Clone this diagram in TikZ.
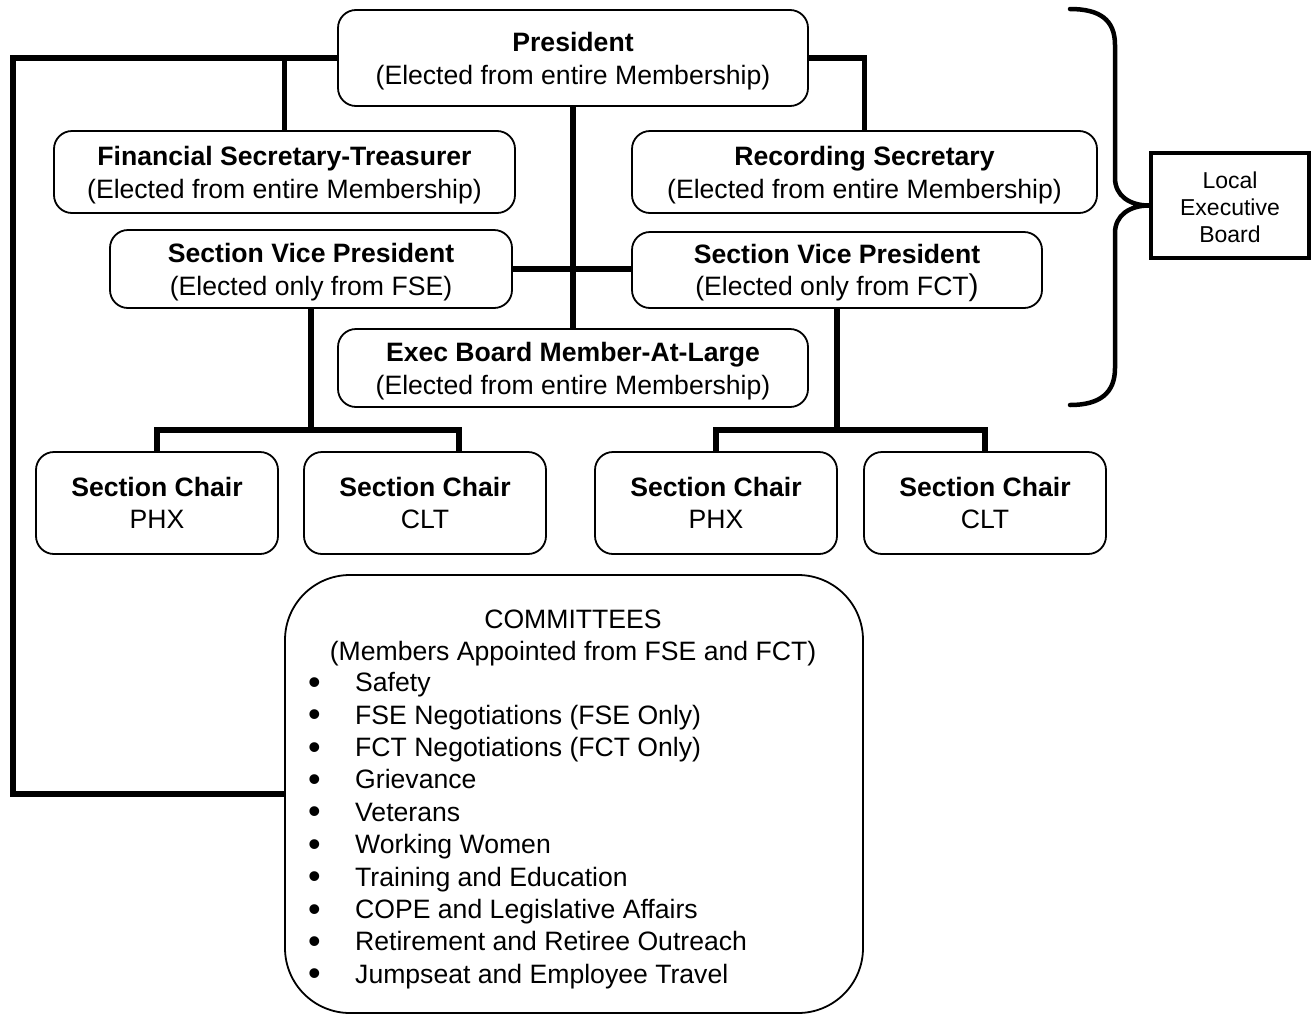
\documentclass[tikz,border=0pt]{standalone}
\usepackage{fontspec}
\setmainfont{Liberation Sans}
\usepackage{array}
\usepackage{graphicx}
\newcommand{\mainf}{\fontsize{26.6}{32.4}\selectfont}
\newcommand{\lebf}{\fontsize{23}{27}\selectfont}
\newcommand{\tstr}{\rule{0pt}{25.5pt}}
\newcommand{\bigbul}{\hspace*{2pt}\raisebox{-0.1em}{\scalebox{1.35}{\textbullet}}}
\tikzset{
  orgbox/.style={draw, line width=1.8pt, rounded corners=18pt, fill=white,
    align=center, inner sep=0pt, font=\mainf},
  conn/.style={line width=5.5pt},
  bracestyle/.style={line width=4.5pt, line cap=round},
}
\begin{document}
\begin{tikzpicture}[x=1pt,y=-1pt]
\useasboundingbox (0,0) rectangle (1314,1015);

% boxes
\node[orgbox, minimum width=470pt, minimum height=96pt] (pres) at (573,58)
  {\tstr{\bfseries President}\\(Elected from entire Membership)};
\node[orgbox, minimum width=461pt, minimum height=82pt] (fin) at (284.5,172)
  {\tstr{\bfseries Financial Secretary-Treasurer}\\(Elected from entire Membership)};
\node[orgbox, minimum width=465pt, minimum height=82pt] (rec) at (864.5,172)
  {\tstr{\bfseries Recording Secretary}\\(Elected from entire Membership)};
\node[orgbox, minimum width=402pt, minimum height=78pt] (vpl) at (311,269)
  {\tstr{\bfseries Section Vice President}\\(Elected only from FSE)};
\node[orgbox, minimum width=410pt, minimum height=76pt] (vpr) at (837,270)
  {\tstr{\bfseries Section Vice President}\\(Elected only from FCT{\fontsize{30}{32.4}\selectfont)}};
\node[orgbox, minimum width=470pt, minimum height=78pt] (exec) at (573,368)
  {\tstr{\bfseries Exec Board Member-At-Large}\\(Elected from entire Membership)};

\node[orgbox, minimum width=242pt, minimum height=102pt] (c1) at (157,503)
  {{\bfseries Section Chair}\\PHX};
\node[orgbox, minimum width=242pt, minimum height=102pt] (c2) at (425,503)
  {{\bfseries Section Chair}\\CLT};
\node[orgbox, minimum width=242pt, minimum height=102pt] (c3) at (716,503)
  {{\bfseries Section Chair}\\PHX};
\node[orgbox, minimum width=242pt, minimum height=102pt] (c4) at (985,503)
  {{\bfseries Section Chair}\\CLT};

\node[orgbox, rounded corners=65pt, minimum width=578pt, minimum height=438pt] (comm) at (574,794) {};
\node[align=center, inner sep=0pt, font=\mainf] (commhead) at (573,638)
  {COMMITTEES\\(Members Appointed from FSE and FCT)};
\node[anchor=west, inner sep=0pt, font=\mainf] (commlist) at (306,831)
  {\begin{tabular}{@{}p{49pt}@{}l@{}}
  \bigbul & Safety\\
  \bigbul & FSE Negotiations (FSE Only)\\
  \bigbul & FCT Negotiations (FCT Only)\\
  \bigbul & Grievance\\
  \bigbul & Veterans\\
  \bigbul & Working Women\\
  \bigbul & Training and Education\\
  \bigbul & COPE and Legislative Affairs\\
  \bigbul & Retirement and Retiree Outreach\\
  \bigbul & Jumpseat and Employee Travel
  \end{tabular}};

\node[draw, line width=4pt, minimum width=158pt, minimum height=105pt, align=center,
  inner sep=0pt, font=\lebf] (leb) at (1230,205.5) {\rule{0pt}{20pt}Local\\Executive\\Board};

% connectors
\coordinate (lcorner) at (13,58);
\draw[conn] (pres.west) -- (lcorner) |- (comm.west);
\draw[conn] (fin.north |- pres.west) -- (fin.north);
\draw[conn] (pres.east) -| (rec.north);
\draw[conn] (pres.south) -- (exec.north);
\draw[conn] (vpl.east) -- (vpl.east -| vpr.west);

\coordinate (busL) at (311,430);
\coordinate (dropL) at (459,452);
\draw[conn] (vpl.south) -- (busL);
\draw[conn] (c1.north) |- (busL) -| (dropL);
\coordinate (busR) at (837,430);
\draw[conn] (vpr.south) -- (busR);
\draw[conn] (c3.north) |- (busR) -| (c4.north);

% brace
\draw[bracestyle] (1070,9) .. controls (1100,9) and (1115,20) .. (1115,45)
  -- (1115,178) .. controls (1115,196) and (1130,205.5) .. (leb.west)
  .. controls (1130,205.5) and (1115,215) .. (1115,233)
  -- (1115,368) .. controls (1115,393) and (1100,405) .. (1070,405);
\end{tikzpicture}
\end{document}
